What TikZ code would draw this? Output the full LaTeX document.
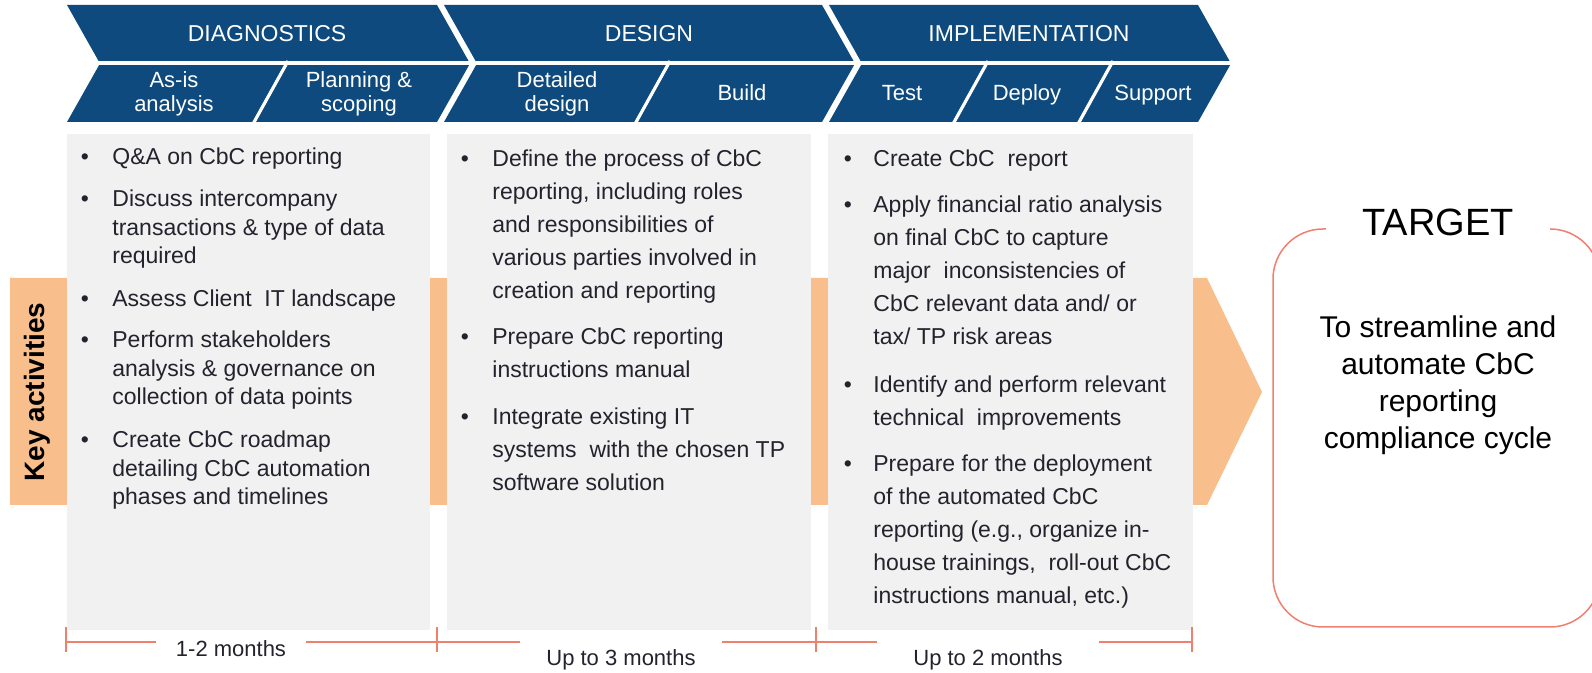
\documentclass[tikz,border=0pt]{standalone}
\usepackage{fontspec}
\setmainfont{Liberation Sans}
\usetikzlibrary{positioning}

\definecolor{navy}{RGB}{14,74,125}
\definecolor{peach}{RGB}{248,191,141}
\definecolor{panel}{RGB}{241,241,241}
\definecolor{salmon}{RGB}{240,128,110}
\definecolor{ink}{RGB}{35,35,45}

% block of lines whose baseline is the first line
\newcommand{\txtlines}[2][l]{\begin{tabular}[t]{@{}#1@{}}#2\end{tabular}}

\begin{document}
\begin{tikzpicture}[x=0.5pt, y=-0.5pt,
    chev/.style={fill=navy},
    cut/.style={white, line width=1.6pt},
    head/.style={white, font=\fontsize{11.5}{14}\selectfont, anchor=base},
    sub/.style={white, font=\fontsize{11}{12}\selectfont, anchor=base, inner sep=0pt},
    panelbox/.style={fill=panel},
    item/.style={ink, font=\fontsize{11.5}{#1}\selectfont, anchor=base west, inner sep=0pt},
    dot/.style={ink, font=\fontsize{11.5}{14}\selectfont, anchor=base, inner sep=0pt},
    span/.style={ink, fill=white, font=\fontsize{11}{13}\selectfont, anchor=base, inner ysep=6pt},
    tline/.style={salmon, line width=0.8pt}]

	\useasboundingbox (0,0) rectangle (1592,673);

	% orange band behind the panels
	\fill[peach] (10,278) -- (1207,278) -- (1262,392) -- (1207,505) -- (10,505) -- cycle;
	\node[font=\fontsize{14}{16}\selectfont\bfseries, rotate=90] (key) at (37,392) {Key activities};

	% phase chevrons
	\fill[chev] (67,5) -- (437,5) -- (470,63.5) -- (437,122) -- (67,122) -- (100,63.5) -- cycle;
	\fill[chev] (444,5) -- (822,5) -- (855,63.5) -- (822,122) -- (444,122) -- (477,63.5) -- cycle;
	\fill[chev] (829,5) -- (1198,5) -- (1231,63.5) -- (1198,122) -- (829,122) -- (862,63.5) -- cycle;
	\draw[cut] (60,63) -- (1240,63);
	\draw[cut] (253,124) -- (288,61);
	\draw[cut] (635,124) -- (670,61);
	\draw[cut] (953,124) -- (988,61);
	\draw[cut] (1078,124) -- (1113,61);

	\node[head] (hDiag) at (267,42) {DIAGNOSTICS};
	\node[head] (hDes) at (649,42) {DESIGN};
	\node[head] (hImp) at (1029,42) {IMPLEMENTATION};

	\node[sub] (sAsis) at (174,88) {\txtlines[c]{As-is\\analysis}};
	\node[sub] (sPlan) at (359,88) {\txtlines[c]{Planning \&\\scoping}};
	\node[sub] (sDet) at (557,88) {\txtlines[c]{Detailed\\design}};
	\node[sub] (sBuild) at (742,101) {Build};
	\node[sub] (sTest) at (902,101) {Test};
	\node[sub] (sDeploy) at (1027,101) {Deploy};
	\node[sub] (sSupport) at (1153,101) {Support};

	% activity panels
	\fill[panelbox] (67,134) rectangle (430,630);
	\fill[panelbox] (447,134) rectangle (811,630);
	\fill[panelbox] (828,134) rectangle (1193,630);

	\foreach \y [count=\i] in {165,207,307,348,448}
		\node[dot] (dd\i) at (85,\y) {\textbullet};
	\node[item=14.25] (d1) at (112,165) {Q\&A on CbC reporting};
	\node[item=14.25] (d2) at (112,207) {\txtlines{Discuss intercompany\\transactions \& type of data\\required}};
	\node[item=14.25] (d3) at (112,307) {Assess Client\ \ IT landscape};
	\node[item=14.25] (d4) at (112,348) {\txtlines{Perform stakeholders\\analysis \& governance on\\collection of data points}};
	\node[item=14.25] (d5) at (112,448) {\txtlines{Create CbC roadmap\\detailing CbC automation\\phases and timelines}};

	\foreach \y [count=\i] in {167,345,425}
		\node[dot] (gd\i) at (465,\y) {\textbullet};
	\node[item=16.5] (g1) at (492,167) {\txtlines{Define the process of CbC\\reporting, including roles\\and responsibilities of\\various parties involved in\\creation and reporting}};
	\node[item=16.5] (g2) at (492,345) {\txtlines{Prepare CbC reporting\\instructions manual}};
	\node[item=16.5] (g3) at (492,425) {\txtlines{Integrate existing IT\\systems\ \ with the chosen TP\\software solution}};

	\foreach \y [count=\i] in {167,213,393,472}
		\node[dot] (md\i) at (848,\y) {\textbullet};
	\node[item=16.5] (m1) at (873,167) {Create CbC\ \ report};
	\node[item=16.5] (m2) at (873,213) {\txtlines{Apply financial ratio analysis\\on final CbC to capture\\major\ \ inconsistencies of\\CbC relevant data and/ or\\tax/ TP risk areas}};
	\node[item=16.5] (m3) at (873,393) {\txtlines{Identify and perform relevant\\technical\ \ improvements}};
	\node[item=16.5] (m4) at (873,472) {\txtlines{Prepare for the deployment\\of the automated CbC\\reporting (e.g., organize in-\\house trainings,\ \ roll-out CbC\\instructions manual, etc.)}};

	% target
	\draw[salmon, line width=0.75pt, rounded corners=25pt] (1273,229) rectangle (1600,627);
	\node[fill=white, inner xsep=18pt, font=\fontsize{19}{22}\selectfont] (tgt) at (1438,222) {TARGET};
	\node[anchor=base, inner sep=0pt, font=\fontsize{15}{18.4}\selectfont] (goal) at (1438,338)
		{\txtlines[c]{To streamline and\\automate CbC\\reporting\\compliance cycle}};

	% durations
	\coordinate (t0) at (66,642);
	\coordinate (t1) at (437,642);
	\coordinate (t2) at (816,642);
	\coordinate (t3) at (1192,642);
	\draw[tline] (t0) -- (t3);
	\foreach \t in {t0,t1,t2,t3}
		\draw[tline] (\t) ++(0,-15) -- ++(0,25);
	\node[span, inner xsep=10pt, inner ysep=5pt] (span1) at (231,657) {1-2 months};
	\node[span, inner xsep=13pt] (span2) at (621,666) {Up to 3 months};
	\node[span, inner xsep=18pt] (span3) at (988,666) {Up to 2 months};
\end{tikzpicture}
\end{document}
